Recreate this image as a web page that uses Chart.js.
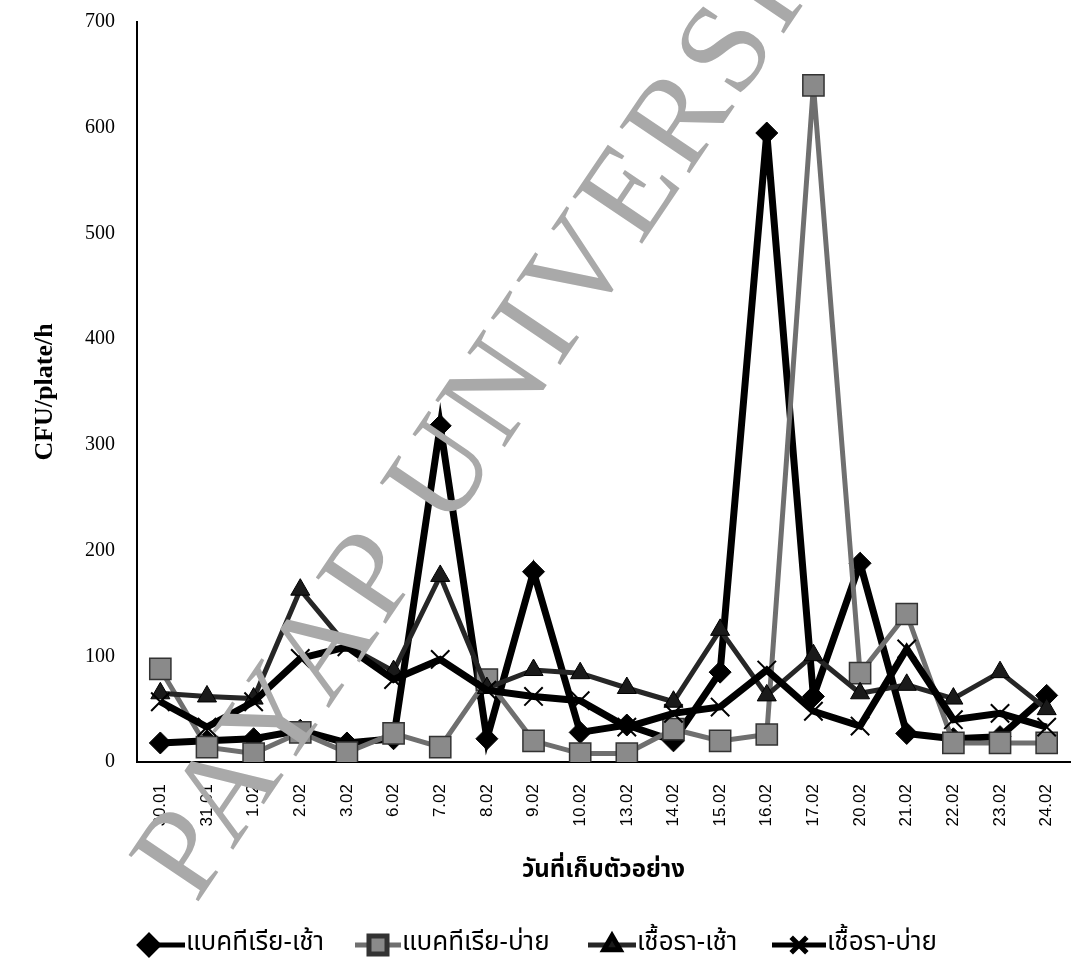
<!DOCTYPE html>
<html>
<head>
<meta charset="utf-8">
<script src="https://cdn.jsdelivr.net/npm/chart.js@4.4.1/dist/chart.umd.min.js"></script>
<style>
  html, body { margin: 0; padding: 0; background: #fff; overflow: hidden; }
  canvas { display: block; }
</style>
</head>
<body>
<canvas id="airborne" width="1074" height="971"></canvas>
<script>
// sampling dates (day.month)
const dates = ['30.01', '31.01', '1.02', '2.02', '3.02', '6.02', '7.02', '8.02', '9.02', '10.02',
  '13.02', '14.02', '15.02', '16.02', '17.02', '20.02', '21.02', '22.02', '23.02', '24.02'];

// CFU/plate/h
const bacteriaMorning = [18, 20, 22, 30, 18, 22, 318, 22, 180, 28, 35, 20, 85, 595, 62, 188, 27, 22, 24, 63];
const bacteriaAfternoon = [88, 14, 8, 28, 9, 27, 14, 78, 20, 8, 8, 31, 20, 26, 640, 84, 140, 18, 18, 18];
const fungiMorning = [65, 62, 60, 163, 110, 86, 176, 70, 87, 84, 70, 57, 125, 63, 101, 65, 73, 60, 85, 50];
const fungiAfternoon = [57, 33, 57, 98, 109, 78, 97, 68, 62, 58, 33, 46, 52, 87, 48, 34, 107, 40, 46, 33];

const yTicks = [0, 100, 200, 300, 400, 500, 600, 700];

const thaiFont = "'Noto Sans Thai', 'Noto Serif Thai', 'Tlwg Typist', 'Garuda', 'Loma', 'Liberation Serif', serif";

// keep tick-label overhang from shrinking the plot area
const noPadding = () => ({ left: 0, top: 0, right: 0, bottom: 0 });

// legend drawn as line + marker + label, in one row under the axis title
const legendStarts = [140, 355, 588, 772];
const legendSwatch = [45, 46, 48, 54];
const rowLegend = {
  id: 'rowLegend',
  afterDraw(chart) {
    const ctx = chart.ctx;
    const y = 945;
    ctx.save();
    ctx.font = '26px ' + thaiFont;
    ctx.textBaseline = 'middle';
    chart.data.datasets.forEach((ds, i) => {
      const x = legendStarts[i];
      const sw = legendSwatch[i];
      ctx.strokeStyle = ds.borderColor;
      ctx.lineWidth = Math.min(ds.borderWidth, 5);
      ctx.beginPath();
      ctx.moveTo(x, y);
      ctx.lineTo(x + sw, y);
      ctx.stroke();
      ctx.fillStyle = ds.pointBackgroundColor;
      ctx.strokeStyle = ds.pointBorderColor;
      Chart.helpers.drawPoint(ctx, {
        pointStyle: ds.pointStyle,
        radius: ds.pointRadius * 0.85,
        borderWidth: ds.pointBorderWidth,
        rotation: 0
      }, ds.pointStyle === 'rectRot' ? x + 9 : x + sw / 2, y);
      ctx.fillStyle = '#000';
      ctx.fillText(ds.label, x + sw + 1, y);
    });
    ctx.restore();
  }
};

// grey diagonal stamp across the plot
const stamp = {
  id: 'stamp',
  afterDraw(chart) {
    const ctx = chart.ctx;
    ctx.save();
    ctx.translate(196, 905);
    ctx.rotate(-56 * Math.PI / 180);
    ctx.font = '128px "Liberation Serif", serif';
    ctx.letterSpacing = '6px';
    ctx.fillStyle = '#a9a9a9';
    ctx.textBaseline = 'alphabetic';
    ctx.fillText('PAYAP UNIVERSITY', 0, 0);
    ctx.restore();
  }
};

new Chart(document.getElementById('airborne'), {
  type: 'line',
  data: {
    labels: dates,
    datasets: [
      {
        label: 'แบคทีเรีย-เช้า',
        data: bacteriaMorning,
        borderColor: '#000',
        borderWidth: 7,
        pointStyle: 'rectRot',
        pointRadius: 11,
        pointBackgroundColor: '#000',
        pointBorderColor: '#000',
        pointBorderWidth: 1,
        order: 4
      },
      {
        label: 'แบคทีเรีย-บ่าย',
        data: bacteriaAfternoon,
        borderColor: '#6f6f6f',
        borderWidth: 5,
        pointStyle: 'rect',
        pointRadius: 15,
        pointBackgroundColor: '#8a8a8a',
        pointBorderColor: '#333',
        pointBorderWidth: 1.5,
        order: 3
      },
      {
        label: 'เชื้อรา-เช้า',
        data: fungiMorning,
        borderColor: '#262626',
        borderWidth: 5,
        pointStyle: 'triangle',
        pointRadius: 11,
        pointBackgroundColor: '#1a1a1a',
        pointBorderColor: '#000',
        pointBorderWidth: 1,
        order: 2
      },
      {
        label: 'เชื้อรา-บ่าย',
        data: fungiAfternoon,
        borderColor: '#000',
        borderWidth: 7,
        pointStyle: 'crossRot',
        pointRadius: 13,
        pointBackgroundColor: '#000',
        pointBorderColor: '#000',
        pointBorderWidth: 2,
        order: 1
      }
    ]
  },
  options: {
    responsive: false,
    animation: false,
    layout: { autoPadding: false, padding: { top: 22, right: 4, bottom: 80, left: 0 } },
    elements: { line: { tension: 0 } },
    plugins: {
      legend: { display: false },
      tooltip: { enabled: false }
    },
    scales: {
      x: {
        offset: true,
        grid: { display: false, drawTicks: false },
        border: { display: true, color: '#000', width: 2 },
        ticks: {
          color: '#000',
          font: { family: "'Liberation Sans', Arial, sans-serif", size: 17 },
          minRotation: 90,
          maxRotation: 90,
          padding: 22,
          autoSkip: false
        },
        title: {
          display: true,
          text: 'วันที่เก็บตัวอย่าง',
          color: '#000',
          font: { family: thaiFont, size: 24, weight: 'bold' },
          padding: { top: 0, bottom: 4 }
        },
        afterFit(scale) {
          scale.height = 129;
          scale.getPadding = noPadding;
        }
      },
      y: {
        min: 0,
        max: 700,
        afterBuildTicks(scale) { scale.ticks = yTicks.map(v => ({ value: v })); },
        grid: { display: false, drawTicks: false },
        border: { display: true, color: '#000', width: 2 },
        ticks: {
          color: '#000',
          font: { family: "'Liberation Serif', 'Times New Roman', serif", size: 20 },
          padding: 22
        },
        title: {
          display: true,
          text: 'CFU/plate/h',
          color: '#000',
          font: { family: "'Liberation Serif', 'Times New Roman', serif", size: 26, weight: 'bold' },
          padding: { top: 30, bottom: 0 }
        },
        afterFit(scale) {
          scale.width = 137;
          scale.getPadding = noPadding;
        }
      }
    }
  },
  plugins: [rowLegend, stamp]
});
</script>
</body>
</html>
